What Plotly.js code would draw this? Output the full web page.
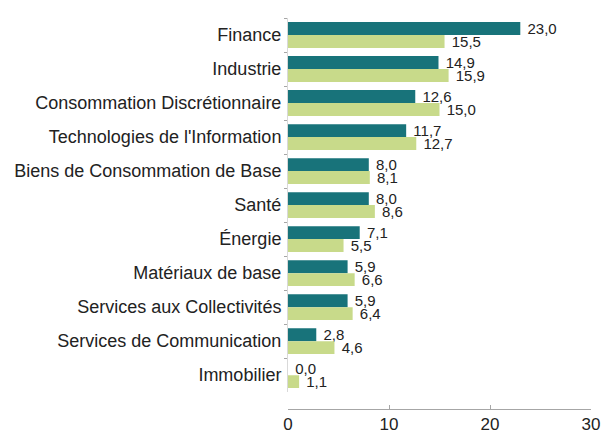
<!DOCTYPE html>
<html><head><meta charset="utf-8">
<script src="https://cdn.plot.ly/plotly-3.0.1.min.js"></script>
<style>html,body{margin:0;padding:0;background:#fff}#chart{width:602px;height:430px}</style>
</head><body><div id="chart"></div>
<script>
const categories = ["Finance","Industrie","Consommation Discrétionnaire","Technologies de l'Information","Biens de Consommation de Base","Santé","Énergie","Matériaux de base","Services aux Collectivités","Services de Communication","Immobilier"];
const seriesA = [23.0,14.9,12.6,11.7,8.0,8.0,7.1,5.9,5.9,2.8,0.0];
const seriesB = [15.5,15.9,15.0,12.7,8.1,8.6,5.5,6.6,6.4,4.6,1.1];
const xTicks = [0,10,20,30];

const common = {type:'bar', orientation:'h', y:categories, textposition:'outside', texttemplate:' %{x:.1f}', cliponaxis:false,
  constraintext:'none',
  textfont:{family:'Liberation Sans, Arial, sans-serif', size:15, color:'#222'}, hoverinfo:'none'};
const data = [
  Object.assign({}, common, {x:seriesA, name:'A', marker:{color:'#18737a'}}),
  Object.assign({}, common, {x:seriesB, name:'B', marker:{color:'#c8da8a'}})
];
const layout = {
  width:602, height:430, separators:', ',
  margin:{l:288, r:11, t:18, b:21},
  barmode:'group', bargap:0.24, bargroupgap:0,
  showlegend:false, plot_bgcolor:'#fff', paper_bgcolor:'#fff',
  font:{family:'Liberation Sans, Arial, sans-serif', size:18, color:'#222'},
  xaxis:{range:[0,30], tickvals:xTicks, showgrid:false, zeroline:false, showline:true, linecolor:'#a6a6a6', linewidth:1,
    ticks:'inside', ticklen:4, tickcolor:'#a6a6a6', anchor:'free', position:0, tickfont:{size:17}, fixedrange:true},
  yaxis:{autorange:'reversed', domain:[0.043,1], showgrid:false, zeroline:false, showline:true, linecolor:'#d9d9d9',
    ticks:'outside', ticklen:3, tickcolor:'#a6a6a6', tickson:'boundaries', tickfont:{size:18}, ticklabelstandoff:2}
};
Plotly.newPlot('chart', data, layout, {staticPlot:true});
</script></body></html>
